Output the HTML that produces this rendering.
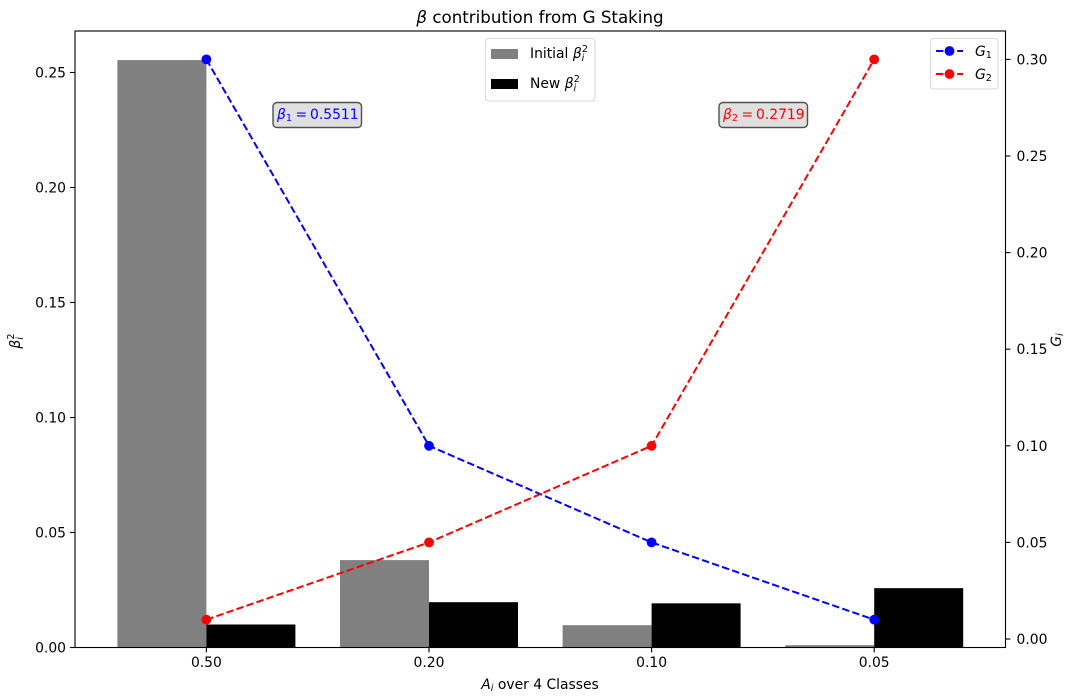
<!DOCTYPE html>
<html>
<head>
<meta charset="utf-8">
<style>
html,body{margin:0;padding:0;background:#fff;width:1070px;height:700px;overflow:hidden}
svg{display:block}
text{font-family:"DejaVu Sans","Liberation Sans",sans-serif;fill:#000}
.i{font-style:italic}
</style>
</head>
<body>
<svg id="chart" width="1070" height="700" viewBox="0 0 1070 700" xmlns="http://www.w3.org/2000/svg">
  <text x="540" y="23" text-anchor="middle" font-size="16.67"><tspan class="i">β</tspan> contribution from G Staking</text>
  <text x="540" y="689" text-anchor="middle" font-size="13.89"><tspan class="i">A</tspan><tspan class="i" font-size="9.7" dy="2">i</tspan><tspan dy="-2"> over 4 Classes</tspan></text>
  <text transform="translate(20,341) rotate(-90)" text-anchor="middle" font-size="13.89"><tspan class="i">β</tspan><tspan class="i" font-size="9.7" dy="3">i</tspan><tspan font-size="9.7" dy="-9" dx="-2.5">2</tspan></text>
  <text transform="translate(1061,340) rotate(-90)" text-anchor="middle" font-size="13.89"><tspan class="i">G</tspan><tspan class="i" font-size="9.7" dy="2">i</tspan></text>
  <g id="bars"></g>
  <g id="ticks"></g>
  <g id="lines"></g>
  <rect x="75" y="31" width="930.5" height="616.5" fill="none" stroke="#000" stroke-width="1.1"/>

  <g>
    <rect x="485.5" y="38.5" width="109.5" height="62.5" rx="3" fill="#fff" fill-opacity="0.8" stroke="#d9d9d9" stroke-width="1.1"/>
    <rect x="491" y="49" width="27" height="10" fill="#808080"/>
    <text x="530" y="58" font-size="13.89">Initial <tspan class="i">β</tspan><tspan class="i" font-size="9.7" dy="3">i</tspan><tspan font-size="9.7" dy="-9" dx="-2.5">2</tspan></text>
    <rect x="491" y="79" width="27" height="10" fill="#000"/>
    <text x="530" y="88" font-size="13.89">New <tspan class="i">β</tspan><tspan class="i" font-size="9.7" dy="3">i</tspan><tspan font-size="9.7" dy="-9" dx="-2.5">2</tspan></text>
  </g>

  <g>
    <rect x="930.5" y="38.5" width="67.5" height="50.5" rx="3" fill="#fff" fill-opacity="0.8" stroke="#d9d9d9" stroke-width="1.1"/>
    <line x1="936" y1="51" x2="963" y2="51" stroke="#0000ff" stroke-width="2" stroke-dasharray="7.4 3.2"/>
    <circle cx="949.5" cy="51" r="4.9" fill="#0000ff"/>
    <text x="975" y="56" font-size="13.89"><tspan class="i">G</tspan><tspan font-size="9.7" dy="2">1</tspan></text>
    <line x1="936" y1="74" x2="963" y2="74" stroke="#ff0000" stroke-width="2" stroke-dasharray="7.4 3.2"/>
    <circle cx="949.5" cy="74" r="4.9" fill="#ff0000"/>
    <text x="975" y="79" font-size="13.89"><tspan class="i">G</tspan><tspan font-size="9.7" dy="2">2</tspan></text>
  </g>

  <g>
    <rect x="273" y="102.5" width="88.5" height="25" rx="4" fill="#e0e0e0" stroke="#505050" stroke-width="1.4"/>
    <text x="277" y="119" font-size="13.89" style="fill:#0000ff"><tspan class="i" style="fill:#0000ff">β</tspan><tspan font-size="9.7" dy="2" style="fill:#0000ff">1</tspan><tspan x="295.5" dy="-2" style="fill:#0000ff">=</tspan><tspan x="310" style="fill:#0000ff">0.5511</tspan></text>
  </g>
  <g>
    <rect x="719" y="102.5" width="88.5" height="25" rx="4" fill="#e0e0e0" stroke="#505050" stroke-width="1.4"/>
    <text x="723" y="119" font-size="13.89" style="fill:#ff0000"><tspan class="i" style="fill:#ff0000">β</tspan><tspan font-size="9.7" dy="2" style="fill:#ff0000">2</tspan><tspan x="741.5" dy="-2" style="fill:#ff0000">=</tspan><tspan x="756" style="fill:#ff0000">0.2719</tspan></text>
  </g>
</svg>
<script>
const categories = ["0.50", "0.20", "0.10", "0.05"];
const initialBeta = [0.2554, 0.0380, 0.0097, 0.0010];
const newBeta = [0.0100, 0.0197, 0.0192, 0.0258];
const g1Values = [0.30, 0.10, 0.05, 0.01];
const g2Values = [0.01, 0.05, 0.10, 0.30];
const leftTicks = ["0.00", "0.05", "0.10", "0.15", "0.20", "0.25"];
const rightTicks = ["0.00", "0.05", "0.10", "0.15", "0.20", "0.25", "0.30"];

const NS = "http://www.w3.org/2000/svg";
const xPos = i => 206.4 + i * 222.6;
const barWidth = 89;
const yLeft = v => 647.5 - v * 2300;
const yRight = v => 639 - v * 1932;

function make(tag, attrs, parent, content) {
  const el = document.createElementNS(NS, tag);
  for (const k in attrs) el.setAttribute(k, attrs[k]);
  if (content !== undefined) el.textContent = content;
  parent.appendChild(el);
  return el;
}

const barsG = document.getElementById("bars");
const ticksG = document.getElementById("ticks");
const linesG = document.getElementById("lines");

categories.forEach((c, i) => {
  const a = make("rect", {x: xPos(i) - barWidth, y: yLeft(initialBeta[i]), width: barWidth, height: yLeft(0) - yLeft(initialBeta[i]), fill: "#808080"}, barsG);
  
  
  const b = make("rect", {x: xPos(i), y: yLeft(newBeta[i]), width: barWidth, height: yLeft(0) - yLeft(newBeta[i]), fill: "#000"}, barsG);
  
  
  const t = make("line", {x1: xPos(i), x2: xPos(i), y1: 647.5, y2: 652.4, stroke: "#000", "stroke-width": 1.1}, ticksG);
  
  
  const l = make("text", {x: xPos(i), y: 667, "text-anchor": "middle", "font-size": 13.89}, ticksG, c);
  
  
});

leftTicks.forEach(s => {
  const y = yLeft(parseFloat(s));
  const t = make("line", {x1: 70.1, x2: 75, y1: y, y2: y, stroke: "#000", "stroke-width": 1.1}, ticksG);
  
  
  const l = make("text", {x: 66, y: y + 5, "text-anchor": "end", "font-size": 13.89}, ticksG, s);
  
  
});

rightTicks.forEach(s => {
  const y = yRight(parseFloat(s));
  const t = make("line", {x1: 1005.5, x2: 1010.4, y1: y, y2: y, stroke: "#000", "stroke-width": 1.1}, ticksG);
  
  
  const l = make("text", {x: 1016.5, y: y + 5, "font-size": 13.89}, ticksG, s);
  
  
});

function pointsOf(values) {
  return values.map((v, i) => xPos(i) + "," + yRight(v)).join(" ");
}

const lineG1 = make("polyline", {points: pointsOf(g1Values), fill: "none", stroke: "#0000ff", "stroke-width": 2, "stroke-dasharray": "7.4 3.2"}, linesG);


const lineG2 = make("polyline", {points: pointsOf(g2Values), fill: "none", stroke: "#ff0000", "stroke-width": 2, "stroke-dasharray": "7.4 3.2"}, linesG);



g1Values.forEach((v, i) => {
  const p = make("circle", {cx: xPos(i), cy: yRight(v), r: 4.9, fill: "#0000ff"}, linesG);
  
  
});
g2Values.forEach((v, i) => {
  const p = make("circle", {cx: xPos(i), cy: yRight(v), r: 4.9, fill: "#ff0000"}, linesG);
  
  
});
</script>
</body>
</html>
